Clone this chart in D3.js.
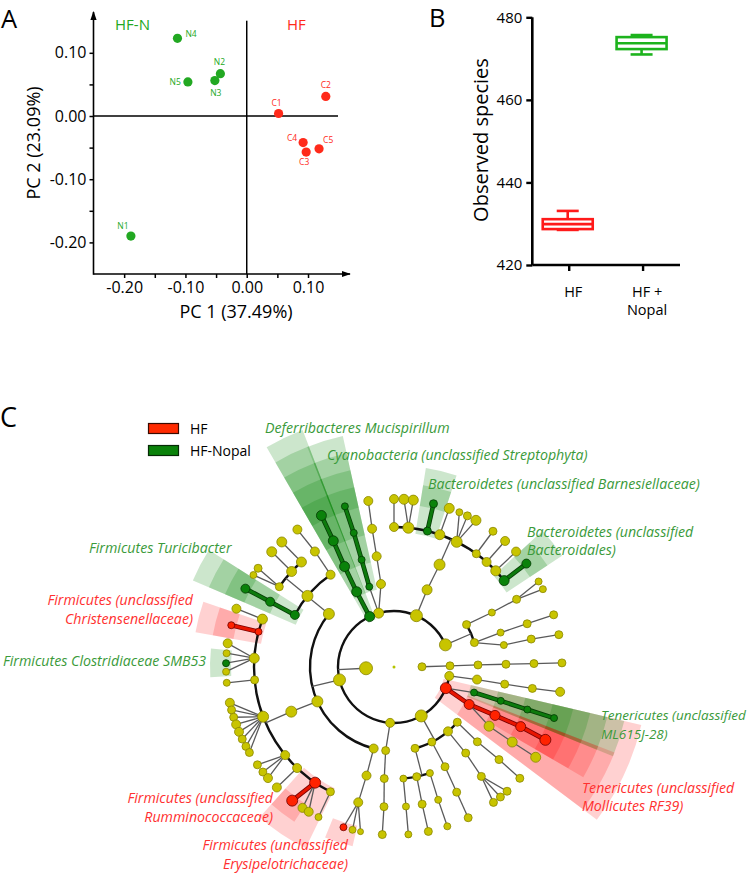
<!DOCTYPE html>
<html><head><meta charset="utf-8">
<script src="https://cdn.jsdelivr.net/npm/d3@7"></script>
<style>
html,body{margin:0;padding:0;background:#fff;}
svg{display:block;font-family:"Open Sans",sans-serif;}
</style></head><body>
<svg id="fig" width="751" height="874"></svg>
<script>
// ================= DATA =================
// Panel A : PCA
const pcaSamples = ['N1','N2','N3','N4','N5','C1','C2','C3','C4','C5'];
const pcaGroup   = ['HF-N','HF-N','HF-N','HF-N','HF-N','HF','HF','HF','HF','HF'];
const pc1 = [-0.189,-0.043,-0.052,-0.113,-0.096, 0.052, 0.129, 0.097, 0.092, 0.118];
const pc2 = [-0.190, 0.067, 0.056, 0.123, 0.054, 0.004, 0.031,-0.057,-0.042,-0.052];
const pcaTicks = [-0.20,-0.10,0.00,0.10];
const pcaMinorTicks = [-0.15,-0.05,0.05];
const pcaGroupNames = ['HF-N','HF'];

// Panel B : observed species box plot
const boxGroups = ['HF','HF + Nopal'];
const boxMin = [428.5, 471.0];
const boxQ1  = [428.7, 472.3];
const boxMed = [429.9, 473.7];
const boxQ3  = [431.1, 475.2];
const boxMax = [433.1, 475.7];
const speciesTicks = [420,440,460,480];

// Panel C : LEfSe cladogram  [id, parent, angle(deg, 0=up, clockwise), level, abundance size, group(0 none,1 HF,2 HF-Nopal)]
const legendGroups = ['HF','HF-Nopal'];
const cladeNodes = [
 ['root',null,0,0,1.5,0],
 ['Bac','root',-92.6,1,6.5,0],
 ['Arc','root',89.5,1,4,0],
 ['Arc2','Arc',88.8,2,4,0],['Arc3','Arc2',88.6,3,4,0],['Arc4','Arc3',88.6,4,4,0],['Arc5','Arc4',88.6,5,4,0],['Arc6','Arc5',88.6,6,4,0],
 ['V','Bac',99.2,2,4.5,0],['V3','V',98.6,3,4.5,0],['V4','V3',98.8,4,4,0],['V5','V4',98.8,5,4,0],['V6','V5',98.5,6,4.5,0],
 ['T','Bac',112.2,2,5.5,1],
 ['T3g','T',107.7,3,3.5,2],['T4g','T3g',107.6,4,3.5,2],['T5g','T4g',107.7,5,3.5,2],['T6g','T5g',107.7,6,3.5,2],
 ['T3r','T',116.5,3,5,1],['T4r','T3r',115.6,4,5,1],['T5r','T4r',115.2,5,5,1],['T6r','T5r',115.7,6,5.5,1],
 ['T4y','T3r',121.9,4,5,0],['T5y','T4y',122.4,5,5,0],['T6y','T5y',122.5,6,5,0],
 ['P','Bac',150.9,2,6,0],
 ['PA','P',131.1,3,4,0],['PA4','PA',131.9,4,4,0],['PA5','PA4',131.4,5,4,0],['PA6','PA5',131.5,6,4,0],
 ['PB','P',140,3,4.5,0],['PB4','PB',140.2,4,4,0],['PB5','PB4',141.4,5,4,0],
 ['PB6a','PB5',137.7,6,4,0],['PB6b','PB5',140.7,6,4,0],['PB6c','PB5',143.7,6,4,0],
 ['PC','P',153.2,3,4,0],['PC4','PC',152.9,4,4,0],['PC5','PC4',153.4,5,4,0],['PC6','PC5',153.8,6,4,0],
 ['PD','P',165.5,3,4,0],
 ['PD4a','PD',161.3,4,3.5,0],['PD5a','PD4a',161.6,5,3.5,0],['PD6a','PD5a',161.5,6,3.5,0],
 ['PD4b','PD',168.3,4,4,0],['PD5b','PD4b',168.4,5,4,0],['PD6b','PD5b',168.2,6,4,0],
 ['PD4c','PD',175.2,4,3.5,0],['PD5c','PD4c',175.1,5,3.5,0],['PD6c','PD5c',175.1,6,3.5,0],
 ['Q','Bac',-176,2,4.5,0],['Q3','Q',-174.3,3,4,0],['Q4','Q3',-175,4,4,0],['Q5','Q4',-175.9,5,4,0],['Q6','Q5',-176,6,4,0],
 ['F','Bac',-103.3,2,6,0],
 ['Fe','F',-166,3,4.5,0],['Fe4','Fe',-165.8,4,4.5,0],['Fe5','Fe4',-165.2,5,4.5,0],
 ['Fe6a','Fe5',-162.5,6,3.5,1],['Fe6b','Fe5',-165.7,6,3.5,0],['Fe6c','Fe5',-168.5,6,3,0],
 ['Fc','F',-114.2,3,5.5,0],['Fc4','Fc',-113.5,4,5.5,0],
 ['Fc5a','Fc4',-70,5,5,0],['Fc6a','Fc5a',-69.7,6,4.5,0],
 ['Fc5b','Fc4',-75.4,5,3.5,1],['Fc6b','Fc5b',-75.6,6,3.5,1],
 ['Fc5c','Fc4',-86.4,5,5,0],['Fc6c1','Fc5c',-81.9,6,4.5,0],['Fc6c2','Fc5c',-85.3,6,3.5,0],['Fc6c3','Fc5c',-88.7,6,3.5,2],['Fc6c4','Fc5c',-91.6,6,3.5,0],
 ['Fc5d','Fc4',-95.3,5,4,0],['Fc6d','Fc5d',-95.4,6,3.5,0],
 ['Fc5e','Fc4',-110.8,5,5.5,0],
 ['Fc6e1','Fc5e',-102.3,6,4.5,0],['Fc6e2','Fc5e',-104.8,6,4,0],['Fc6e3','Fc5e',-107.4,6,4,0],['Fc6e4','Fc5e',-110,6,4.5,0],
 ['Fc6e5','Fc5e',-112.7,6,4.5,0],['Fc6e6','Fc5e',-115.4,6,4,0],['Fc6e7','Fc5e',-118.2,6,4,0],['Fc6e8','Fc5e',-120.6,6,4,0],
 ['Fc5f','Fc4',-129,5,4.5,0],['Fc6f1','Fc5f',-125.6,6,4,0],['Fc6f2','Fc5f',-128.7,6,4,0],['Fc6f3','Fc5f',-131.4,6,4.5,0],
 ['Fc5g','Fc4',-136.2,5,4.5,0],['Fc6g','Fc5g',-135.8,6,4.5,0],
 ['Fc5h','Fc4',-145.7,5,5.5,1],['Fc6h1','Fc5h',-142.7,6,5.5,1],['Fc6h2','Fc5h',-147,6,4.5,0],['Fc6h3','Fc5h',-149.5,6,4.5,0],
 ['Fc5i','Fc4',-153,5,4,0],['Fc6i','Fc5i',-153.3,6,3.5,0],
 ['Fb','F',-50.8,3,5.5,0],
 ['Fb4a','Fb',-62.3,4,4.5,2],['Fb5a','Fb4a',-62.2,5,4.5,2],['Fb6a','Fb5a',-62.2,6,4.5,2],
 ['Fb4b','Fb',-50.6,4,5.5,0],
 ['Fb5b','Fb4b',-55,5,4,0],['Fb6b1','Fb5b',-54,6,4,0],['Fb6b2','Fb5b',-56.8,6,3.5,0],
 ['Fb5c','Fb4b',-47,5,5,0],['Fb6c','Fb5c',-46.7,6,5,0],
 ['Fb5d','Fb4b',-41.4,5,5,0],['Fb6d','Fb5d',-41.9,6,5,0],
 ['Fb4c','Fb',-34.5,4,4.5,0],['Fb5e','Fb4c',-34.4,5,4.5,0],['Fb6e','Fb5e',-35.1,6,4.5,0],
 ['D','Bac',-25.8,2,5,2],['D3','D',-26.4,3,5,2],['D4','D3',-26.2,4,5,2],['D5','D4',-25.7,5,5,2],['D6','D5',-25.6,6,5,2],
 ['C','Bac',-15.9,2,5,0],
 ['C3g','C',-17.1,3,3.5,2],['C4g','C3g',-16.8,4,3.5,2],['C5g','C4g',-16.7,5,3.5,2],['C6g','C5g',-17,6,3.5,2],
 ['C3y','C',-8.9,3,4.5,0],['C4y','C3y',-8.9,4,4.5,0],['C5y','C4y',-9,5,4.5,0],['C6y','C5y',-8.8,6,4.5,0],
 ['B','Bac',23.6,2,6,0],['B3','B',23.2,3,5,0],['B4','B3',24,4,5.5,0],
 ['B5a','B4',0,5,4.5,0],['B6a','B5a',0,6,4.5,0],
 ['B5b','B4',5.9,5,5.5,0],['B6b1','B5b',3.4,6,5,0],['B6b2','B5b',6.6,6,5,0],
 ['B5c','B4',13.8,5,4,2],['B6c','B5c',13.6,6,4,2],
 ['B5d','B4',19.1,5,5,0],['B6d','B5d',19.2,6,5,0],
 ['B5e','B4',26.6,5,5.5,0],['B6e1','B5e',22.9,6,3.5,0],['B6e2','B5e',25.9,6,4,0],['B6e3','B5e',29.2,6,5,0],
 ['B5f','B4',36,5,4,0],['B6f','B5f',36.1,6,4,0],
 ['B5g','B4',41.4,5,4.5,0],['B6g','B5g',41.4,6,4.5,0],
 ['B5h','B4',46.6,5,5,0],['B6h','B5h',46.6,6,4.5,0],
 ['B5i','B4',51.9,5,5,2],['B6i','B5i',52,6,4.5,2],
 ['R','Bac',66.7,2,6,0],
 ['R3a','R',59.7,3,4,0],['R4a','R3a',60.9,4,3.5,0],['R5a','R4a',61.1,5,4,0],['R6a1','R5a',59.4,6,3.5,0],['R6a2','R5a',62.4,6,3.5,0],
 ['R3b','R',73.1,3,4,0],['R4b','R3b',72.1,4,3.5,0],['R5b','R4b',72,5,4,0],['R6b','R5b',71.9,6,4,0],
 ['R4c','R3b',78.7,4,3.5,0],['R5c','R4c',78.5,5,4,0],['R6c','R5c',78.9,6,4,0]
];
const cladeLabels = [
 {lines:['Deferribacteres Mucispirillum'], g:2},
 {lines:['Cyanobacteria (unclassified Streptophyta)'], g:2},
 {lines:['Bacteroidetes (unclassified Barnesiellaceae)'], g:2},
 {lines:['Bacteroidetes (unclassified','Bacteroidales)'], g:2},
 {lines:['Firmicutes Turicibacter'], g:2},
 {lines:['Firmicutes (unclassified','Christensenellaceae)'], g:1},
 {lines:['Firmicutes Clostridiaceae SMB53'], g:2},
 {lines:['Tenericutes (unclassified','ML615J-28)'], g:2},
 {lines:['Firmicutes (unclassified','Rumminococcaceae)'], g:1},
 {lines:['Firmicutes (unclassified','Erysipelotrichaceae)'], g:1},
 {lines:['Tenericutes (unclassified','Mollicutes RF39)'], g:1}
];

// ================= DRAWING =================
const svg = d3.select('#fig');
const GREEN_A = '#22a822', RED_A = '#ff2a1a';
const defs = svg.append('defs');
defs.append('marker').attr('id','arr').attr('viewBox','0 0 10 10').attr('refX',9).attr('refY',5)
  .attr('markerWidth',9).attr('markerHeight',9).attr('markerUnits','userSpaceOnUse').attr('orient','auto')
  .append('path').attr('d','M0,1.5L10,5L0,8.5Z').attr('fill','#000');

// panel letters
svg.append('text').attr('x',1).attr('y',27.5).attr('font-size',25.5).text('A');
svg.append('text').attr('x',429).attr('y',27).attr('font-size',25.5).text('B');
svg.append('text').attr('x',0).attr('y',427).attr('font-size',27).text('C');

// ---------- Panel A ----------
const xA = d3.scaleLinear().domain([-0.25,0.1685]).range([93.5,350]);
const yA = d3.scaleLinear().domain([-0.25,0.163]).range([274,13]);
const gA = svg.append('g');
const fmt = d => d.toFixed(2);
const axX = gA.append('g').attr('transform',`translate(0,${yA(-0.25)})`)
  .call(d3.axisBottom(xA).tickValues(pcaTicks).tickFormat(fmt).tickSize(4).tickPadding(4));
const axXm = gA.append('g').attr('transform',`translate(0,${yA(-0.25)})`)
  .call(d3.axisBottom(xA).tickValues(pcaMinorTicks).tickFormat('').tickSize(4));
const axY = gA.append('g').attr('transform',`translate(${xA(-0.25)},0)`)
  .call(d3.axisLeft(yA).tickValues(pcaTicks).tickFormat(fmt).tickSize(4).tickPadding(3));
const axYm = gA.append('g').attr('transform',`translate(${xA(-0.25)},0)`)
  .call(d3.axisLeft(yA).tickValues(pcaMinorTicks).tickFormat('').tickSize(4));
[axX,axXm,axY,axYm].forEach(a=>{
  a.select('.domain').remove();
  a.selectAll('line').attr('stroke','#000').attr('stroke-width',1.5);
  a.selectAll('text').attr('font-size',16).attr('font-family','"Open Sans",sans-serif').attr('fill','#000');
});
gA.append('line').attr('x1',xA(-0.25)).attr('x2',350).attr('y1',yA(-0.25)).attr('y2',yA(-0.25))
  .attr('stroke','#000').attr('stroke-width',1.6).attr('marker-end','url(#arr)');
gA.append('line').attr('x1',xA(-0.25)).attr('x2',xA(-0.25)).attr('y1',yA(-0.25)+0.8).attr('y2',12)
  .attr('stroke','#000').attr('stroke-width',1.6).attr('marker-end','url(#arr)');
gA.append('line').attr('x1',xA(0)).attr('x2',xA(0)).attr('y1',20.7).attr('y2',yA(-0.25)).attr('stroke','#000').attr('stroke-width',1.5);
gA.append('line').attr('x1',xA(-0.25)).attr('x2',338).attr('y1',yA(0)).attr('y2',yA(0)).attr('stroke','#000').attr('stroke-width',1.5);
gA.append('text').attr('x',236).attr('y',318).attr('text-anchor','middle').attr('font-size',18).text('PC 1 (37.49%)');
gA.append('text').attr('transform','translate(40,143) rotate(-90)').attr('text-anchor','middle').attr('font-size',18).text('PC 2 (23.09%)');
gA.append('text').attr('x',115).attr('y',30).attr('font-size',15).attr('fill',GREEN_A).text(pcaGroupNames[0]);
gA.append('text').attr('x',287).attr('y',30).attr('font-size',15).attr('fill',RED_A).text(pcaGroupNames[1]);
const pcaLabelLayout = {N1:[-8,-7,'middle'],N2:[-1,-9,'middle'],N3:[1,15,'middle'],N4:[8,-1,'start'],N5:[-7,3,'end'],
  C1:[-2,-7,'middle'],C2:[0,-8,'middle'],C3:[-2,13,'middle'],C4:[-6,-1.5,'end'],C5:[4,-6,'start']};
pcaSamples.forEach((s,i)=>{
  const col = pcaGroup[i]==='HF' ? RED_A : GREEN_A;
  const px = xA(pc1[i]), py = yA(pc2[i]);
  gA.append('circle').attr('cx',px).attr('cy',py).attr('r',4.6).attr('fill',col);
  const L = pcaLabelLayout[s];
  gA.append('text').attr('x',px+L[0]).attr('y',py+L[1]).attr('text-anchor',L[2]).attr('font-size',8.5).attr('fill',col).text(s);
});

// ---------- Panel B ----------
const yB = d3.scaleLinear().domain([420,480]).range([265,17.3]);
const xB = d3.scaleBand().domain(boxGroups).range([532.3,680]);
const gB = svg.append('g');
const axBY = gB.append('g').attr('transform','translate(532.3,0)')
  .call(d3.axisLeft(yB).tickValues(speciesTicks).tickSize(6).tickPadding(4));
axBY.select('.domain').attr('stroke','#000').attr('stroke-width',2.6).attr('d','M0,17.3V265');
axBY.selectAll('line').attr('stroke','#000').attr('stroke-width',2.4);
axBY.selectAll('text').attr('font-size',15).attr('font-family','"Open Sans",sans-serif').attr('fill','#000');
const axBX = gB.append('g').attr('transform','translate(0,265)')
  .call(d3.axisBottom(xB).tickSize(6).tickFormat(''));
axBX.select('.domain').attr('stroke','#000').attr('stroke-width',2.6).attr('d','M532.3,0H680');
axBX.selectAll('line').attr('stroke','#000').attr('stroke-width',2.4);
boxGroups.forEach((g,i)=>{
  const cxB = xB(g) + xB.bandwidth()/2;
  const parts = g==='HF' ? ['HF'] : ['HF +','Nopal'];
  parts.forEach((t,k)=>{
    gB.append('text').attr('x',cxB+4).attr('y',297+k*18.3).attr('text-anchor','middle').attr('font-size',14.5).text(t);
  });
});
gB.append('text').attr('transform','translate(488,140) rotate(-90)').attr('text-anchor','middle').attr('font-size',20).text('Observed species');
const boxCols = ['#ff1a1a','#1db31d'];
boxGroups.forEach((g,i)=>{
  const c = xB(g) + xB.bandwidth()/2 - 1.5;
  const w = 50, cap = 22, col = boxCols[i];
  const gg = gB.append('g').attr('stroke',col).attr('stroke-width',2.6).attr('fill','none');
  gg.append('line').attr('x1',c).attr('x2',c).attr('y1',yB(boxMax[i])).attr('y2',yB(boxQ3[i]));
  gg.append('line').attr('x1',c).attr('x2',c).attr('y1',yB(boxMin[i])).attr('y2',yB(boxQ1[i]));
  gg.append('line').attr('x1',c-cap/2).attr('x2',c+cap/2).attr('y1',yB(boxMax[i])).attr('y2',yB(boxMax[i]));
  gg.append('line').attr('x1',c-cap/2).attr('x2',c+cap/2).attr('y1',yB(boxMin[i])).attr('y2',yB(boxMin[i]));
  gg.append('rect').attr('x',c-w/2).attr('y',yB(boxQ3[i])).attr('width',w).attr('height',yB(boxQ1[i])-yB(boxQ3[i]));
  gg.append('line').attr('x1',c-w/2).attr('x2',c+w/2).attr('y1',yB(boxMed[i])).attr('y2',yB(boxMed[i]));
});

// ---------- Panel C ----------
const cx = 394, cy = 667;
const rScale = d3.scaleLinear().domain([0,6]).range([0,168]);
const norm = a => a < 95 ? a + 360 : a;
const nodes = cladeNodes.map(d=>({id:d[0],parent:d[1],angle:norm(d[2]),level:d[3],size:d[4],grp:d[5],children:[]}));
const byId = new Map(nodes.map(n=>[n.id,n]));
nodes.forEach(n=>{ if(n.parent) byId.get(n.parent).children.push(n); });
const rad = deg => deg*Math.PI/180;
const pos = (r,deg) => { const p = d3.pointRadial(rad(deg), r); return [cx+p[0], cy+p[1]]; };
function leafRange(n){
  if(!n.children.length) return [n.angle,n.angle];
  const rs = n.children.map(leafRange);
  return [d3.min(rs,r=>r[0]), d3.max(rs,r=>r[1])];
}
const gC = svg.append('g');
// highlight wedges
const wedgeCol = {1:'#ff0000',2:'#008000'};
const wedgeArc = d3.arc();
const gW = gC.append('g').attr('transform',`translate(${cx},${cy})`);
nodes.filter(n=>n.grp>0).sort((a,b)=>a.level-b.level).forEach(n=>{
  const [lo,hi] = leafRange(n);
  const pad = 4.5;
  gW.append('path').attr('d', wedgeArc({innerRadius:rScale(n.level)-5, outerRadius:184+17.5*(6-n.level),
      startAngle:rad(lo-pad), endAngle:rad(hi+pad)}))
    .attr('fill',wedgeCol[n.grp]).attr('fill-opacity', n.grp===1?0.18:0.2);
});
// edges
const gE = gC.append('g').attr('fill','none');
const edgeCol = {1:'#e81500',2:'#0d7a0d'};
const edgeDark = {1:'#7a0000',2:'#053d05'};
function seg(a,b,colored,grp){
  if(colored){
    gE.append('line').attr('x1',a[0]).attr('y1',a[1]).attr('x2',b[0]).attr('y2',b[1]).attr('stroke',edgeDark[grp]).attr('stroke-width',4.6);
    gE.append('line').attr('x1',a[0]).attr('y1',a[1]).attr('x2',b[0]).attr('y2',b[1]).attr('stroke',edgeCol[grp]).attr('stroke-width',3);
  } else {
    gE.append('line').attr('x1',a[0]).attr('y1',a[1]).attr('x2',b[0]).attr('y2',b[1]).attr('stroke','#5a5a5a').attr('stroke-width',1.3);
  }
}
nodes.forEach(p=>{
  if(p.level===0 || !p.children.length) return;
  const ch = p.children;
  const cr = rScale(p.level+1), pr = rScale(p.level);
  const angs = ch.map(c=>c.angle).concat([p.angle]);
  const lo = d3.min(angs), hi = d3.max(angs);
  const allLeaves = ch.every(c=>!c.children.length);
  if(allLeaves || hi-lo < 9){
    ch.forEach(c=>seg(pos(pr,p.angle),pos(cr,c.angle), p.grp>0 && p.grp===c.grp, c.grp));
  } else {
    const path = d3.path();
    const s = pos(cr,lo);
    path.moveTo(s[0],s[1]);
    path.arc(cx,cy,cr,rad(lo-90),rad(hi-90),false);
    gE.append('path').attr('d',path.toString()).attr('stroke','#111').attr('stroke-width',2.4);
    seg(pos(pr,p.angle),pos(cr,p.angle),false,0);
  }
});
// nodes
const nodeFill = {0:'#c8c400',1:'#ff2200',2:'#0a820a'};
const nodeStroke = {0:'#8a8600',1:'#6a0000',2:'#033a03'};
gC.append('g').selectAll('circle').data(nodes.slice().sort((a,b)=>a.grp-b.grp)).join('circle')
  .attr('cx',d=>pos(rScale(d.level),d.angle)[0]).attr('cy',d=>pos(rScale(d.level),d.angle)[1])
  .attr('r',d=>d.size).attr('fill',d=>d.level===0?'#b5c400':nodeFill[d.grp])
  .attr('stroke',d=>d.level===0?'none':nodeStroke[d.grp]).attr('stroke-width',0.8);
// legend
const legCols = [['#ff2a00','#3a0a00'],['#0a820a','#062a06']];
legendGroups.forEach((g,i)=>{
  gC.append('rect').attr('x',148.5).attr('y',423.5+i*22).attr('width',30).attr('height',10)
    .attr('fill',legCols[i][0]).attr('stroke',legCols[i][1]).attr('stroke-width',1.2);
  gC.append('text').attr('x',190).attr('y',433.5+i*22).attr('font-size',14).text(g);
});
// clade labels  [x, first baseline, anchor, line height, font size]
const labelLayout = [
 [265,433,'start',0,14.2],[327,460,'start',0,14.2],[428,489,'start',0,14.2],[527,537,'start',18,14.2],[89,553,'start',0,14.2],
 [193,605,'end',18.5,14.2],[3,666,'start',0,14.2],[601,720,'start',18.5,13.5],[273,803,'end',18.5,14.2],[348,850,'end',18.5,14.2],[582,793,'start',17.5,14.2]
];
const labCol = {1:'#ff3030',2:'#3a9a3a'};
cladeLabels.forEach((L,i)=>{
  const [x,y,anc,lh,fs] = labelLayout[i];
  L.lines.forEach((t,k)=>{
    gC.append('text').attr('x',x).attr('y',y+k*lh).attr('text-anchor',anc).attr('font-size',fs)
      .attr('font-style','italic').attr('fill',labCol[L.g]).text(t);
  });
});
</script>
</body></html>
